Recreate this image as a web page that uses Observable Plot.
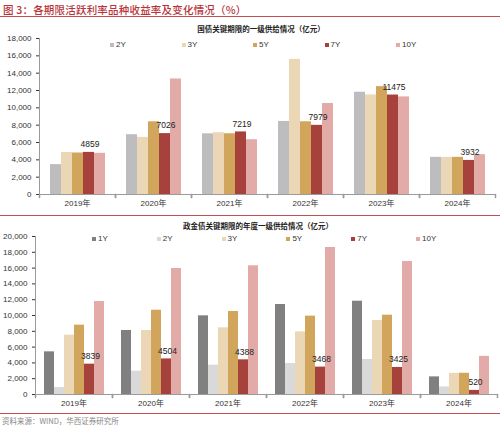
<!DOCTYPE html>
<html>
<head>
<meta charset="utf-8">
<script src="https://cdn.jsdelivr.net/npm/d3@7"></script>
<script src="https://cdn.jsdelivr.net/npm/@observablehq/plot@0.6"></script>
<style>
  html, body { margin: 0; padding: 0; background: #fff; }
  body { width: 500px; height: 429px; position: relative; overflow: hidden;
         font-family: "Liberation Sans", Arial, "Noto Sans CJK SC", sans-serif; }
  .abs { position: absolute; }
  #title { left: 3px; top: 2px; font-size: 10.5px; color: #b8343a; letter-spacing: 0.2px;
           font-family: "Noto Sans CJK SC", sans-serif; font-weight: 500; white-space: nowrap; }
  .redline { left: 0; width: 500px; height: 1px; background: #c0504d; }
  .sub { font-family: "Noto Sans CJK SC", sans-serif; font-weight: 700; font-size: 7.5px; color: #222;
         white-space: nowrap; transform: translateX(-50%); }
  .legend { display: flex; font-size: 8px; color: #333; }
  .legend .item { display: flex; align-items: center; }
  .legend .sw { width: 4px; height: 4px; margin-right: 2px; }
  #source { left: 2px; top: 415px; font-size: 7.5px; color: #888; font-family: "Noto Sans CJK SC", sans-serif; white-space: nowrap; }
</style>
</head>
<body>
<div id="title" class="abs">图 3：各期限活跃利率品种收益率及变化情况（%）</div>
<div class="abs redline" style="top:16px"></div>
<div class="abs sub" style="left:261px; top:23px">国债关键期限的一级供给情况（亿元）</div>
<div id="chart1" class="abs" style="left:0; top:30px"></div>
<div id="legend1" class="abs legend" style="left:110px; top:40px"></div>
<div class="abs redline" style="top:215px"></div>
<div class="abs sub" style="left:258px; top:220px">政金债关键期限的年度一级供给情况（亿元）</div>
<div id="chart2" class="abs" style="left:0; top:232px"></div>
<div id="legend2" class="abs legend" style="left:92px; top:234px"></div>
<div class="abs redline" style="top:413px"></div>
<div id="source" class="abs">资料来源：WIND，华西证券研究所</div>

<script>
// ---------- data ----------
const years = ["2019", "2020", "2021", "2022", "2023", "2024"];

// Chart 1: 国债
const seriesTop = ["2Y", "3Y", "5Y", "7Y", "10Y"];
const top2Y  = [3450, 6900, 7000, 8430, 11800, 4290];
const top3Y  = [4850, 6590, 7130, 15590, 11490, 4290];
const top5Y  = [4790, 8390, 7010, 8390, 12450, 4290];
const top7Y  = [4859, 7026, 7219, 7979, 11475, 3932];
const top10Y = [4750, 13330, 6320, 10500, 11260, 4600];
const colorsTop = ["#bdbdbf", "#ebd6b5", "#d2a55d", "#a6413b", "#e3aba8"];
const yTicksTop = [0, 2000, 4000, 6000, 8000, 10000, 12000, 14000, 16000, 18000];

// Chart 2: 政金债
const seriesBot = ["1Y", "2Y", "3Y", "5Y", "7Y", "10Y"];
const bot1Y  = [5400, 8100, 9960, 11390, 11810, 2230];
const bot2Y  = [890, 2950, 3710, 3920, 4430, 960];
const bot3Y  = [7510, 8100, 8440, 7930, 9370, 2680];
const bot5Y  = [8780, 10670, 10510, 9920, 10040, 2690];
const bot7Y  = [3839, 4504, 4388, 3468, 3425, 520];
const bot10Y = [11770, 15950, 16290, 18610, 16840, 4830];
const colorsBot = ["#808080", "#d9d9d9", "#ebd6b5", "#d2a55d", "#a6413b", "#e3aba8"];
const yTicksBot = [0, 2000, 4000, 6000, 8000, 10000, 12000, 14000, 16000, 18000, 20000];

const labelSeries = "7Y";

// ---------- build tables ----------
function table(series, arrays) {
  const rows = [];
  series.forEach((s, i) => years.forEach((y, j) => rows.push({year: y, series: s, value: arrays[i][j]})));
  return rows;
}
const dataTop = table(seriesTop, [top2Y, top3Y, top5Y, top7Y, top10Y]);
const dataBot = table(seriesBot, [bot1Y, bot2Y, bot3Y, bot5Y, bot7Y, bot10Y]);

const tickShape = { draw(context, l) { context.moveTo(0, 0); context.lineTo(0, -l); } };

function makeChart({data, series, colors, yTicks, height, marginLeft, marginRight, marginTop, marginBottom, paddingOuter}) {
  return Plot.plot({
    width: 500,
    height,
    marginLeft, marginRight, marginTop, marginBottom,
    style: {fontSize: "8px", fontFamily: "'Liberation Sans', Arial, 'Noto Sans CJK SC', sans-serif", color: "#333", background: "transparent"},
    fx: {domain: years, paddingInner: 0, paddingOuter: 0, label: null, axis: "bottom",
         tickSize: 0, tickPadding: 6, tickFormat: d => d + "年"},
    x: {domain: series, paddingInner: 0, paddingOuter, axis: null},
    y: {domain: [yTicks[0], yTicks[yTicks.length - 1]], ticks: yTicks, tickFormat: d3.format(","),
        tickSize: 3, tickPadding: 5, label: null},
    color: {domain: series, range: colors},
    marks: [
      Plot.barY(data, {fx: "year", x: "series", y: "value", fill: "series"}),
      Plot.ruleY([0], {stroke: "#9a9a9a", strokeWidth: 1}),
      Plot.frame({anchor: "left", fx: years[0], stroke: "#9a9a9a"}),
      Plot.vector([0], {frameAnchor: "bottom-left", length: 3, rotate: 180, anchor: "start", shape: tickShape, stroke: "#9a9a9a"}),
      Plot.vector([0], {frameAnchor: "bottom-right", length: 3, rotate: 180, anchor: "start", shape: tickShape, stroke: "#9a9a9a"}),
      Plot.text(data.filter(d => d.series === labelSeries), {
        fx: "year", x: "series", y: "value", text: d => String(d.value),
        dy: -8, dx: 1, fontSize: 8.5, fill: "#222"
      })
    ]
  });
}

document.getElementById("chart1").appendChild(makeChart({
  data: dataTop, series: seriesTop, colors: colorsTop, yTicks: yTicksTop,
  height: 182, marginLeft: 39, marginRight: 5, marginTop: 8, marginBottom: 18, paddingOuter: 0.78
}));
document.getElementById("chart2").appendChild(makeChart({
  data: dataBot, series: seriesBot, colors: colorsBot, yTicks: yTicksBot,
  height: 178, marginLeft: 35, marginRight: 3, marginTop: 4, marginBottom: 16, paddingOuter: 0.72
}));

function legend(el, series, colors, step) {
  series.forEach((s, i) => {
    const item = document.createElement("div");
    item.className = "item";
    item.style.width = step + "px";
    const sw = document.createElement("span");
    sw.className = "sw";
    sw.style.background = colors[i];
    const t = document.createElement("span");
    t.textContent = s;
    item.appendChild(sw); item.appendChild(t);
    el.appendChild(item);
  });
}
legend(document.getElementById("legend1"), seriesTop, colorsTop, 71.5);
legend(document.getElementById("legend2"), seriesBot, colorsBot, 64.8);
</script>
</body>
</html>
